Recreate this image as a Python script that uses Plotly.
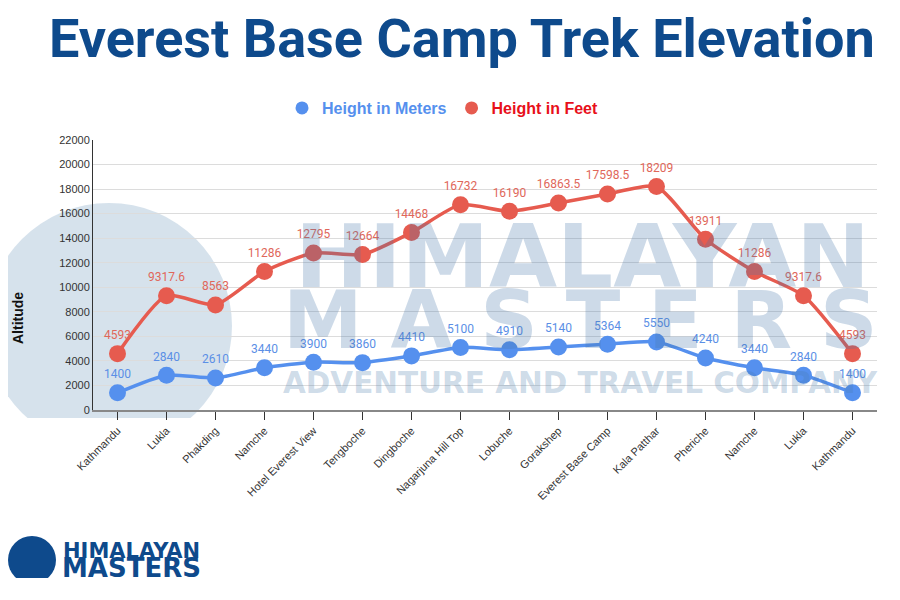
import plotly.graph_objects as go

places = ["Kathmandu", "Lukla", "Phakding", "Namche", "Hotel Everest View", "Tengboche",
          "Dingboche", "Nagarjuna Hill Top", "Lobuche", "Gorakshep", "Everest Base Camp",
          "Kala Patthar", "Pheriche", "Namche", "Lukla", "Kathmandu"]
meters = [1400, 2840, 2610, 3440, 3900, 3860, 4410, 5100, 4910, 5140, 5364, 5550, 4240, 3440, 2840, 1400]
feet = [4593, 9317.6, 8563, 11286, 12795, 12664, 14468, 16732, 16190, 16863.5, 17598.5, 18209,
        13911, 11286, 9317.6, 4593]
y_ticks = list(range(0, 22001, 2000))

# unique x keys so repeated place names get their own slot
x_keys = list(range(len(places)))

BLUE = "#5590ee"
RED = "#e65b4f"
BLUE_TXT = "#5b8fe6"
RED_TXT = "#e0675a"
NAVY = "#0e4a8c"

fig = go.Figure()

fig.add_trace(go.Scatter(
    x=x_keys, y=feet, mode="lines+markers+text", name="Height in Feet",
    line=dict(color=RED, width=3.5, shape="spline", smoothing=0.6),
    marker=dict(color=RED, size=17),
    text=[f"{v:g}" for v in feet], textposition="top center",
    textfont=dict(color=RED_TXT, size=12, family="Roboto"),
    showlegend=False, cliponaxis=False))

fig.add_trace(go.Scatter(
    x=x_keys, y=meters, mode="lines+markers+text", name="Height in Meters",
    line=dict(color=BLUE, width=3.5, shape="spline", smoothing=0.6),
    marker=dict(color=BLUE, size=17),
    text=[f"{v:g}" for v in meters], textposition="top center",
    textfont=dict(color=BLUE_TXT, size=12, family="Roboto"),
    showlegend=False, cliponaxis=False))

# legend entries (dot only)
fig.add_trace(go.Scatter(x=[None], y=[None], mode="markers",
                         name=f"<b><span style='color:{BLUE}'>Height in Meters</span></b>",
                         marker=dict(color=BLUE, size=13)))
fig.add_trace(go.Scatter(x=[None], y=[None], mode="markers",
                         name="<b><span style='color:#e8101a'>Height in Feet</span></b>",
                         marker=dict(color=RED, size=13)))

# page is drawn with an 8px body offset
OFF = 8
L, R, T, B = 85, 31, 132, 198
W, H = 900, 600
pw, ph = W - L - R, H - T - B


def px(x):
    return (x - OFF - L) / pw


def py(y):
    return (H - B - (y - OFF)) / ph


wm_color = "rgba(70,120,170,0.27)"
annotations = [
    dict(text="Everest Base Camp Trek Elevation", x=px(462), y=py(38), xref="paper", yref="paper",
         showarrow=False, xanchor="center", yanchor="middle",
         font=dict(family="Roboto", size=54, color=NAVY, weight="bold")),
    dict(text="<b>Altitude</b>", x=px(18), y=py(318), xref="paper", yref="paper", textangle=-90,
         showarrow=False, xanchor="center", yanchor="middle",
         font=dict(family="Liberation Sans, Arial", size=14, color="#111")),
    dict(text="HIMALAYAN", x=px(582), y=py(256), xref="paper", yref="paper", showarrow=False,
         xanchor="center", yanchor="middle",
         font=dict(family="DejaVu Sans", size=88, color=wm_color, weight="bold")),
    dict(text="M A S T E R S", x=px(580), y=py(320), xref="paper", yref="paper", showarrow=False,
         xanchor="center", yanchor="middle",
         font=dict(family="DejaVu Sans", size=80, color=wm_color, weight="bold")),
    dict(text="ADVENTURE AND TRAVEL COMPANY", x=px(580), y=py(383), xref="paper", yref="paper",
         showarrow=False, xanchor="center", yanchor="middle",
         font=dict(family="DejaVu Sans", size=29.5, color=wm_color, weight="bold")),
    dict(text="HIMALAYAN", x=px(61), y=py(551), xref="paper", yref="paper", showarrow=False,
         xanchor="left", yanchor="middle",
         font=dict(family="DejaVu Sans", size=21, color=NAVY, weight="bold")),
    dict(text="MASTERS", x=px(60), y=py(568), xref="paper", yref="paper", showarrow=False,
         xanchor="left", yanchor="middle",
         font=dict(family="DejaVu Sans", size=26, color=NAVY, weight="bold")),
]

shapes = [
    # faint mountain logo at left
    dict(type="circle", xref="paper", yref="paper", layer="below",
         x0=px(-14), x1=px(232), y0=py(203), y1=py(449),
         fillcolor="rgba(200,216,230,0.75)", line=dict(width=0)),
    dict(type="rect", xref="paper", yref="paper", layer="below",
         x0=px(-20), x1=px(240), y0=py(450), y1=py(418),
         fillcolor="white", line=dict(width=0)),
    # small logo at bottom-left
    dict(type="circle", xref="paper", yref="paper", layer="above",
         x0=px(8), x1=px(56), y0=py(536), y1=py(584),
         fillcolor=NAVY, line=dict(width=0)),
    dict(type="rect", xref="paper", yref="paper", layer="above",
         x0=px(4), x1=px(60), y0=py(590), y1=py(578),
         fillcolor="white", line=dict(width=0)),
]

fig.update_layout(
    width=W, height=H,
    margin=dict(l=L, r=R, t=T, b=B),
    paper_bgcolor="white", plot_bgcolor="rgba(0,0,0,0)",
    font=dict(family="Liberation Sans, Arial", color="#333"),
    legend=dict(orientation="h", x=px(443), y=py(108), xanchor="center", yanchor="middle",
                font=dict(family="Liberation Sans", size=16),
                itemwidth=30, bgcolor="rgba(0,0,0,0)"),
    annotations=annotations,
    shapes=shapes,
    xaxis=dict(tickmode="array", tickvals=x_keys, ticktext=places, tickangle=-45,
               range=[-0.5, len(places) - 0.5],
               tickfont=dict(size=11, color="#333"),
               showgrid=False, showline=True, linecolor="#888", linewidth=2,
               ticks="outside", ticklen=8, tickcolor="#333", tickwidth=1, zeroline=False),
    yaxis=dict(range=[0, 22000], tickvals=y_ticks, tickformat="d",
               tickfont=dict(size=11, color="#333"),
               showgrid=True, gridcolor="#dcdcdc", gridwidth=1,
               showline=True, linecolor="#333", linewidth=1, zeroline=False,
               ticks="", ticklen=0),
)

fig.write_html("out.html")
